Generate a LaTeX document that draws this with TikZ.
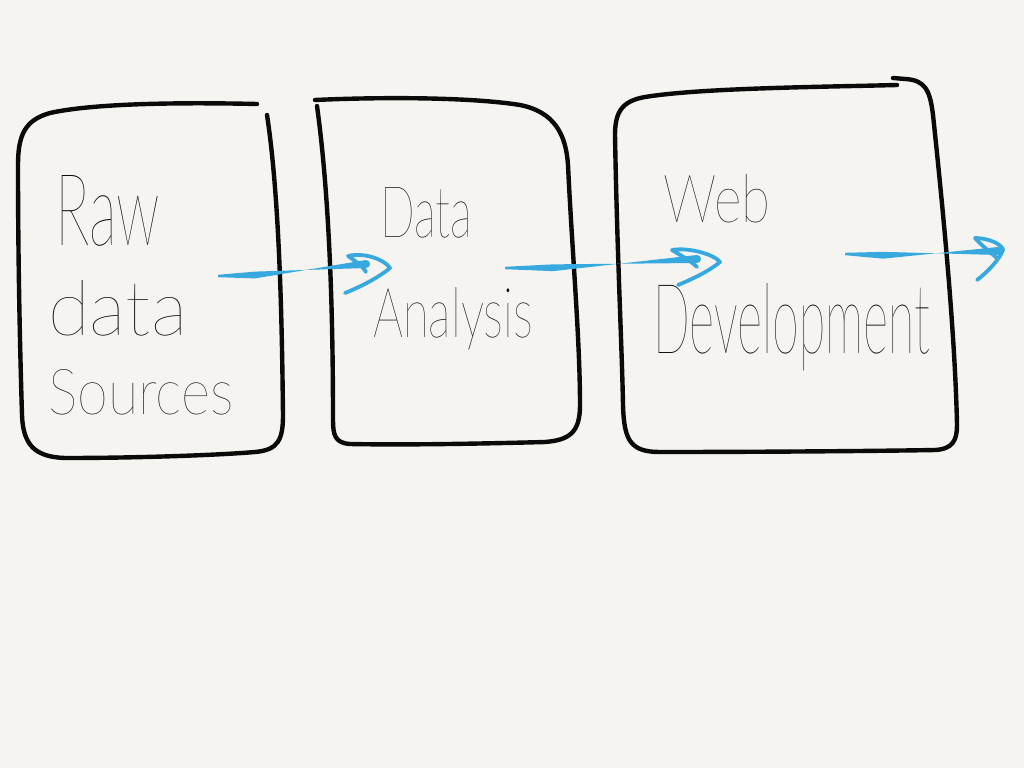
\documentclass[tikz,border=0pt]{standalone}
\usepackage{fontspec}
\usepackage{graphicx}
\usetikzlibrary{calc}
\newfontfamily\hand{Lato Thin}
\definecolor{paper}{HTML}{F5F4F0}
\definecolor{ink}{HTML}{0A0A0A}
\definecolor{skyblue}{HTML}{38A9DF}
\newcommand\hw[3]{\resizebox{#1pt}{#2pt}{\hand #3}}
\tikzset{
  box/.style={draw=ink, line width=4.4pt, line cap=round, line join=round},
  chevron/.style={draw=skyblue, line width=3.8pt, line cap=round, line join=round},
  word/.style={anchor=base west, inner sep=0pt, text=ink}
}
\newcommand\shaftfill[2]{%
  \fill[skyblue] ($(#1)+(0,-1.2)$) -- ($(#1)!0.25!(#2)+(0,-3.4)$) -- ($(#2)+(0,-4)$) arc[start angle=90,end angle=-90,radius=4] -- ($(#1)!0.25!(#2)+(0,3.4)$) -- ($(#1)+(0,1.2)$) -- cycle;}
\begin{document}
\begin{tikzpicture}[x=1pt,y=-1pt]
\fill[paper] (0,0) rectangle (1024,768);
\useasboundingbox (0,0) rectangle (1024,768);
% box 1
\draw[box] (257,104) .. controls (170,102) and (90,104) .. (50,113)
  .. controls (25,120) and (18,135) .. (18,165)
  .. controls (18,260) and (20,350) .. (22,415)
  .. controls (23,445) and (35,457) .. (65,458)
  .. controls (140,458) and (220,455) .. (255,452)
  .. controls (278,450) and (283,440) .. (283,415)
  .. controls (282,330) and (280,200) .. (267,115);
% box 2
\draw[box] (315,100) .. controls (380,97) and (470,97) .. (520,105)
  .. controls (555,112) and (566,135) .. (568,165)
  .. controls (572,250) and (580,340) .. (580,405)
  .. controls (580,432) and (570,440) .. (545,442)
  .. controls (470,444) and (400,445) .. (350,444)
  .. controls (335,443) and (333,435) .. (333,420)
  .. controls (333,320) and (330,200) .. (317,106);
% box 3
\draw[box] (897,85) .. controls (820,87) and (700,88) .. (645,97)
  .. controls (622,101) and (615,112) .. (615,135)
  .. controls (617,250) and (622,350) .. (623,405)
  .. controls (624,440) and (630,452) .. (660,452)
  .. controls (760,452) and (880,451) .. (935,450)
  .. controls (953,449) and (957,440) .. (957,425)
  .. controls (955,330) and (942,200) .. (933,115)
  .. controls (930,90) and (925,80) .. (905,79)
  -- (893,78);
% labels
\node[word] (raw) at (55,245) {\hw{105}{70}{Raw}};
\node[word] (rdata) at (48,335) {\hw{139}{55}{data}};
\node[word] (sources) at (48,414) {\hw{185}{45}{Sources}};
\node[word] (data) at (380,237) {\hw{92}{50}{Data}};
\node[word] (analysis) at (373,337) {\hw{160}{50}{Analysis}};
\node[word] (web) at (663,222) {\hw{107}{48}{Web}};
\node[word] (dev) at (653,353) {\hw{277}{70}{Development}};
% arrows
\coordinate (a1s) at (218,276);
\coordinate (a1e) at (366,272);
\coordinate (a1u) at (348,256);
\coordinate (a1t) at (390,268);
\coordinate (a1l) at (345,293);
\coordinate (a2s) at (505,268);
\coordinate (a2e) at (697,267);
\coordinate (a2u) at (672,250);
\coordinate (a2t) at (720,262);
\coordinate (a2l) at (678,285);
\coordinate (a3s) at (845,254);
\coordinate (a3e) at (998,259);
\coordinate (a3u) at (975,238);
\coordinate (a3t) at (1003,250);
\coordinate (a3l) at (977,280);
\shaftfill{a1s}{a1e}
\draw[chevron] (a1e) .. controls (362,265) and (352,259) .. (a1u)
  .. controls (365,252) and (385,260) .. (a1t)
  .. controls (378,278) and (360,287) .. (a1l);
\shaftfill{a2s}{a2e}
\draw[chevron] (a2e) .. controls (690,260) and (678,254) .. (a2u)
  .. controls (690,247) and (715,255) .. (a2t)
  .. controls (708,272) and (690,280) .. (a2l);
\shaftfill{a3s}{a3e}
\draw[chevron] (a3e) .. controls (990,252) and (980,244) .. (a3u)
  .. controls (988,238) and (1002,244) .. (a3t)
  .. controls (1000,258) and (990,270) .. (a3l);
\end{tikzpicture}
\end{document}
